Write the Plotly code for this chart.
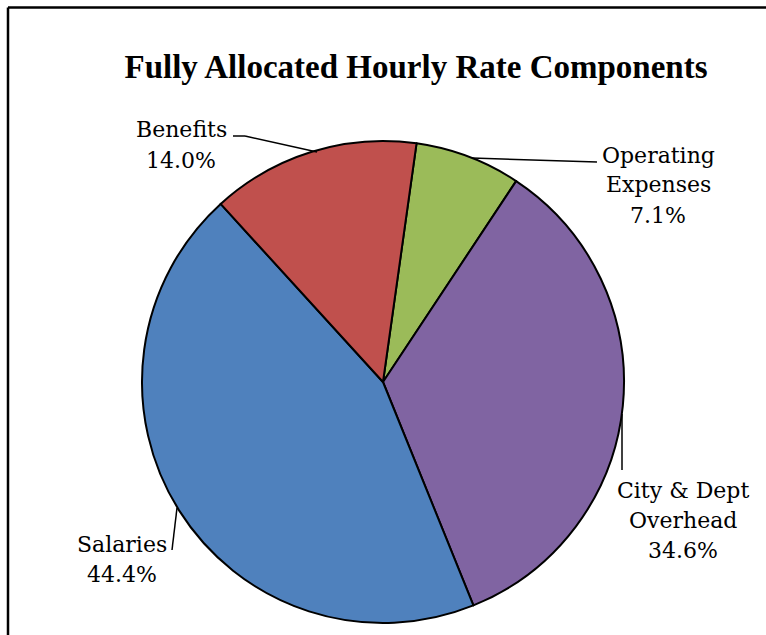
import plotly.graph_objects as go

# ---- data ----
label_lines = [["Operating", "Expenses"], ["City & Dept", "Overhead"], ["Salaries"], ["Benefits"]]
labels = ["Operating Expenses", "City & Dept Overhead", "Salaries", "Benefits"]
values = [7.1, 34.6, 44.4, 14.0]
colors = ["#9BBB59", "#8064A2", "#4F81BD", "#C0504D"]
title_text = "Fully Allocated Hourly Rate Components"

W, H = 766, 635


def px(x):
    return x / W


def py(y):
    return 1 - y / H


# pie geometry (window pixels)
cx, cy, r = 383, 382, 241

fig = go.Figure()
fig.add_trace(go.Pie(
    labels=labels,
    values=values,
    sort=False,
    direction="clockwise",
    rotation=8,
    marker=dict(colors=colors, line=dict(color="black", width=2)),
    textinfo="none",
    hoverinfo="label+percent",
    showlegend=False,
    domain=dict(x=[px(cx - r), px(cx + r)], y=[py(cy + r), py(cy - r)]),
))

# label positions (window pixels): center x, center y of first line
label_pos = [(658, 155), (683, 490), (122, 544), (181, 130)]
LINE_GAP = 30
FONT = "DejaVu Serif"
for lines, val, (lx, ly) in zip(label_lines, values, label_pos):
    all_lines = lines + [f"{val:.1f}%"]
    for i, t in enumerate(all_lines):
        fig.add_annotation(
            x=px(lx), y=py(ly + i * LINE_GAP), xref="paper", yref="paper",
            text=t, showarrow=False, align="center",
            xanchor="center", yanchor="middle",
            font=dict(family=FONT, size=22, color="black"),
        )

# leader lines (window pixels)
leaders = [
    [(472, 158), (597, 162)],
    [(622, 414), (622, 470)],
    [(177, 508), (172, 550)],
    [(233, 136), (245, 136), (317, 152)],
]
shapes = []
for pts in leaders:
    for (x0, y0), (x1, y1) in zip(pts[:-1], pts[1:]):
        shapes.append(dict(type="line", xref="paper", yref="paper",
                           x0=px(x0), y0=py(y0), x1=px(x1), y1=py(y1),
                           line=dict(color="black", width=1.5)))

# chart frame (top and left edges visible)
shapes.append(dict(type="line", xref="paper", yref="paper",
                   x0=px(8), y0=py(7.5), x1=px(800), y1=py(7.5),
                   line=dict(color="black", width=2.5)))
shapes.append(dict(type="line", xref="paper", yref="paper",
                   x0=px(8), y0=py(7.5), x1=px(8), y1=py(700),
                   line=dict(color="black", width=2.5)))

fig.update_layout(
    width=W, height=H,
    margin=dict(l=0, r=0, t=0, b=0),
    paper_bgcolor="white",
    plot_bgcolor="white",
    shapes=shapes,
    title=dict(text=f"<b>{title_text}</b>", x=px(416), xanchor="center",
               y=py(66), yanchor="middle",
               font=dict(family="Liberation Serif", size=33, color="black")),
)

fig.write_html(
    "out.html",
    config={"displayModeBar": False},
    post_script="document.body.style.margin='0';document.body.style.overflow='hidden';",
)
